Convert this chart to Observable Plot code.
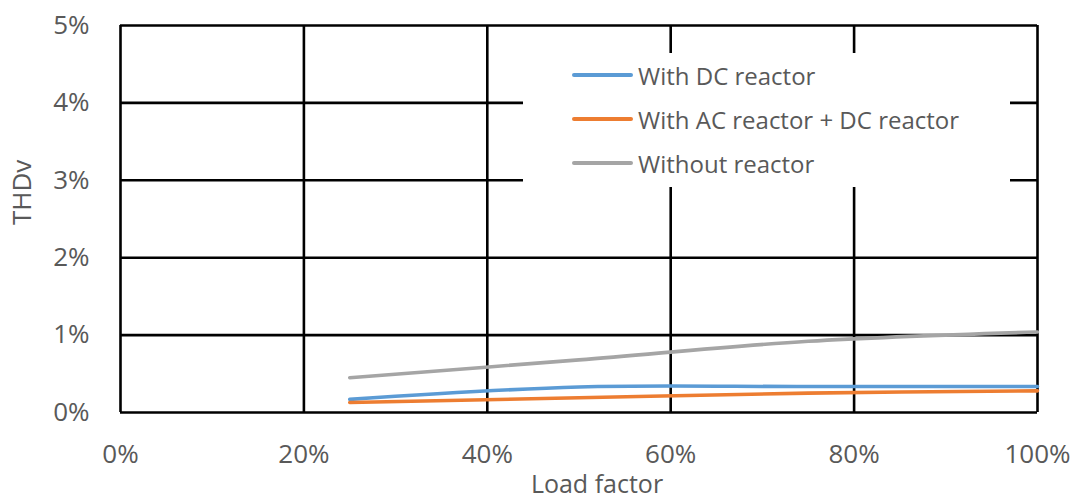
<!DOCTYPE html>
<html>
<head>
<meta charset="utf-8">
<script src="https://cdn.jsdelivr.net/npm/d3@7"></script>
<script src="https://cdn.jsdelivr.net/npm/@observablehq/plot@0.6"></script>
<style>
  html, body { margin: 0; padding: 0; background: #fff; }
  #wrap { position: relative; width: 1085px; height: 502px; font-family: "Open Sans", sans-serif; }
  #legend { position: absolute; left: 523px; top: 53px; width: 487px; height: 134px; background: #fff; }
  .item { position: absolute; left: 49px; height: 30px; display: flex; align-items: center; color: #595959; font-size: 24px; white-space: nowrap; }
  .sw { width: 61px; height: 4px; margin-right: 5px; border-radius: 2px; }
</style>
</head>
<body>
<div id="wrap"></div>
<script>
const loadFactor = [0.25, 0.50, 0.75, 1.00];
const withDC = [0.0017, 0.0033, 0.00335, 0.00335];
const withACDC = [0.0013, 0.0019, 0.0025, 0.0028];
const withoutReactor = [0.0045, 0.0068, 0.0092, 0.0104];
const seriesNames = ["With DC reactor", "With AC reactor + DC reactor", "Without reactor"];
const seriesColors = ["#5B9BD5", "#ED7D31", "#A5A5A5"];
const xTicks = [0, 0.2, 0.4, 0.6, 0.8, 1.0];
const yTicks = [0, 0.01, 0.02, 0.03, 0.04, 0.05];

const allSeries = [withDC, withACDC, withoutReactor];
const data = [];
allSeries.forEach((vals, i) => vals.forEach((v, j) => data.push({series: seriesNames[i], x: loadFactor[j], y: v})));

const pct = d => Math.round(d * 100) + "%";

const chart = Plot.plot({
  width: 1085,
  height: 502,
  marginLeft: 120,
  marginRight: 48,
  marginTop: 25,
  marginBottom: 90,
  style: {fontFamily: "'Open Sans', sans-serif", background: "#fff"},
  x: {domain: [0, 1]},
  y: {domain: [0, 0.05]},
  color: {domain: seriesNames, range: seriesColors},
  marks: [
    Plot.ruleX(xTicks, {stroke: "#000", strokeWidth: 2.6}),
    Plot.ruleY(yTicks, {stroke: "#000", strokeWidth: 2.6}),
    Plot.line(data, {x: "x", y: "y", z: "series", stroke: "series", strokeWidth: 3.6, curve: "catmull-rom"}),
    Plot.axisX({ticks: xTicks, tickFormat: pct, tickSize: 0, tickPadding: 32, fontSize: 26, fill: "#595959", label: null}),
    Plot.axisY({ticks: yTicks, tickFormat: pct, tickSize: 0, tickPadding: 31, fontSize: 26, fill: "#595959", label: null}),
    Plot.text(["Load factor"], {frameAnchor: "bottom", dy: 80, dx: 18, fontSize: 25, fill: "#595959"}),
    Plot.text(["THDv"], {frameAnchor: "left", dx: -98, dy: 6, rotate: -90, fontSize: 26, fill: "#595959"})
  ]
});

const wrap = document.getElementById("wrap");
wrap.appendChild(chart);

const legend = document.createElement("div");
legend.id = "legend";
const rowTops = [7, 51, 95];
seriesNames.forEach((name, i) => {
  const item = document.createElement("div");
  item.className = "item";
  item.style.top = rowTops[i] + "px";
  const sw = document.createElement("div");
  sw.className = "sw";
  sw.style.background = seriesColors[i];
  const t = document.createElement("span");
  t.textContent = name;
  item.appendChild(sw);
  item.appendChild(t);
  legend.appendChild(item);
});
wrap.appendChild(legend);
</script>
</body>
</html>
